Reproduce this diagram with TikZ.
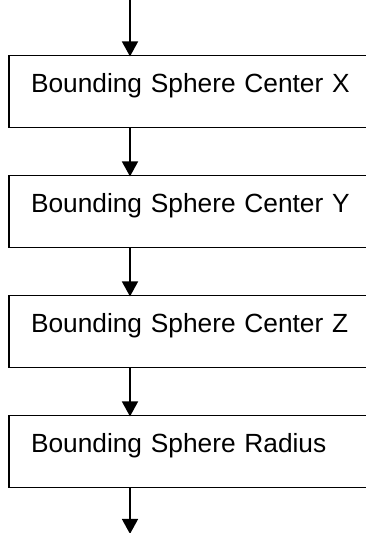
\documentclass[tikz,border=0pt]{standalone}
\usepackage{fontspec}
\setmainfont{Liberation Sans}
\usepackage{tikz}
\usetikzlibrary{positioning,
                arrows.meta}                % arrow tips

\tikzset{
    field/.style={draw, line width=1.8pt, outer sep=0pt, text width=340pt, inner xsep=22pt,
                  align=left, minimum height=72pt, text height=19pt, text depth=18pt,
                  font=\fontsize{26.3}{30}\selectfont},
    flow/.style={line width=1.8pt, -{Triangle[width=16pt,length=15pt]}, shorten >=-0.9pt}
}

\begin{document}
\begin{tikzpicture}[x=1pt, y=-1pt, node distance=48pt]
    \useasboundingbox (0,0) rectangle (366,533);

    \coordinate (in) at (130,0);
    \coordinate (out) at (130,533);

    \node[field, anchor=north west] (cx) at (9,55.5) {Bounding Sphere Center X};
    \node[field, below=of cx] (cy) {Bounding Sphere Center Y};
    \node[field, below=of cy] (cz) {Bounding Sphere Center Z};
    \node[field, below=of cz] (rad) {Bounding Sphere Radius};

    \draw[flow] (in) -- (in |- cx.north);
    \draw[flow] (cx.south -| in) -- (cy.north -| in);
    \draw[flow] (cy.south -| in) -- (cz.north -| in);
    \draw[flow] (cz.south -| in) -- (rad.north -| in);
    \draw[flow] (rad.south -| in) -- (out);
\end{tikzpicture}
\end{document}
